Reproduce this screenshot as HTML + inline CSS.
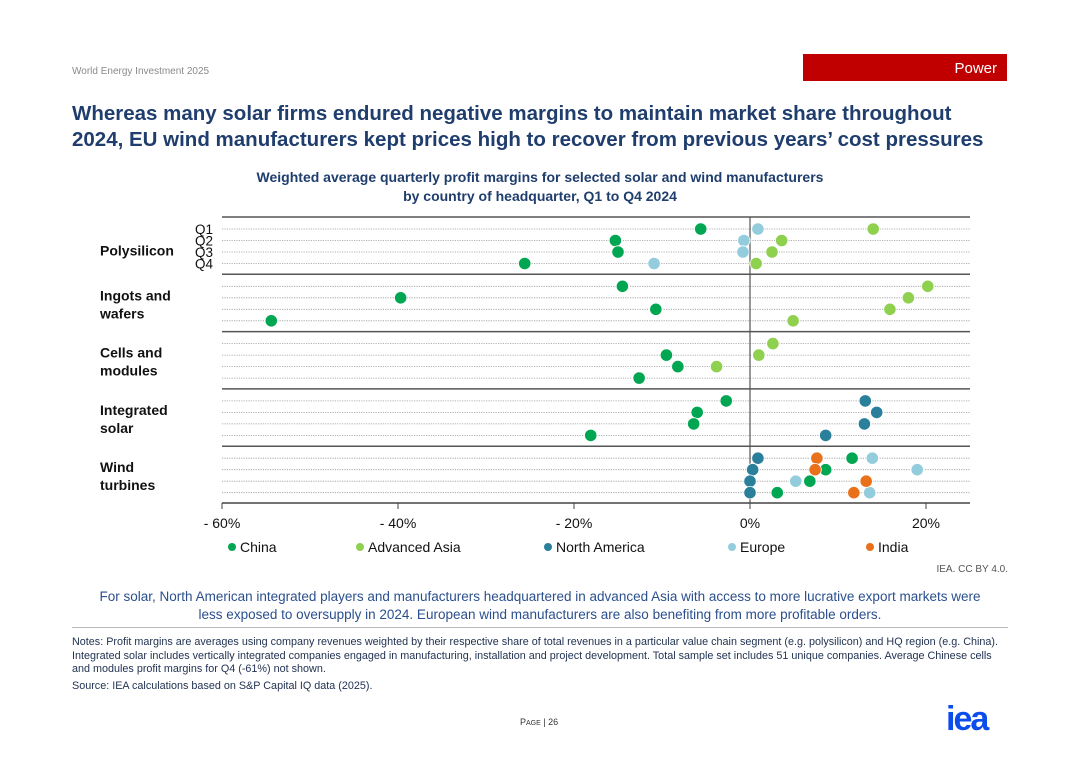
<!DOCTYPE html>
<html><head><meta charset="utf-8">
<style>
body{margin:0;background:#fff;}
#page{position:relative;width:1080px;height:764px;background:#fff;font-family:"Liberation Sans",Arial,sans-serif;overflow:hidden;}
.abs{position:absolute;}
</style></head>
<body>
<div id="page">
<div class="abs" style="left:72px;top:66px;font-size:10px;color:#8a8a8a">World Energy Investment 2025</div>
<div class="abs" style="left:803px;top:54px;width:204px;height:27px;background:#c00000;color:#fff;font-size:15px;text-align:right;box-sizing:border-box;padding:6px 10px 0 0">Power</div>
<div class="abs" style="left:72px;top:101px;font-size:20.5px;font-weight:bold;color:#1f3d6d;line-height:26px;width:1000px;white-space:nowrap">Whereas many solar firms endured negative margins to maintain market share throughout<br>2024, EU wind manufacturers kept prices high to recover from previous years’ cost pressures</div>
<div class="abs" style="left:140px;top:168px;width:800px;text-align:center;font-size:14px;font-weight:bold;color:#1f3d6d;line-height:19px">Weighted average quarterly profit margins for selected solar and wind manufacturers<br>by country of headquarter, Q1 to Q4 2024</div>
<svg id="chart" class="abs" style="left:0;top:0" width="1080" height="764"></svg>
<div class="abs" style="right:72px;top:564px;font-size:10px;color:#555">IEA. CC BY 4.0.</div>
<div class="abs" style="left:20px;top:588px;width:1040px;text-align:center;font-size:13.5px;color:#2b4f8e;line-height:18px;white-space:nowrap">For solar, North American integrated players and manufacturers headquartered in advanced Asia with access to more lucrative export markets were<br>less exposed to oversupply in 2024. European wind manufacturers are also benefiting from more profitable orders.</div>
<div class="abs" style="left:72px;top:627px;width:936px;border-top:1px solid #bbb"></div>
<div class="abs" style="left:72px;top:636px;width:1000px;font-size:10.8px;color:#1f3050;line-height:13.5px;white-space:nowrap">Notes: Profit margins are averages using company revenues weighted by their respective share of total revenues in a particular value chain segment (e.g. polysilicon) and HQ region (e.g. China).<br>Integrated solar includes vertically integrated companies engaged in manufacturing, installation and project development. Total sample set includes 51 unique companies. Average Chinese cells<br>and modules profit margins for Q4 (-61%) not shown.<div style="margin-top:3px">Source: IEA calculations based on S&amp;P Capital IQ data (2025).</div></div>
<div class="abs" style="left:520px;top:717px;font-size:9px;color:#333">P<span style="font-size:7px">AGE</span> | 26</div>
<div class="abs" style="left:946px;top:700px;font-size:34px;font-weight:bold;color:#0a4dea;letter-spacing:-2px">iea</div>
</div>
<script>
const groups=["Polysilicon","Ingots and|wafers","Cells and|modules","Integrated|solar","Wind|turbines"];
const quarters=["Q1","Q2","Q3","Q4"];
const xTicks=[-60,-40,-20,0,20];
const xTickLabels=["- 60%","- 40%","- 20%","0%","20%"];
const seriesNames=["China","Advanced Asia","North America","Europe","India"];
const china=[[-5.6,-15.3,-15,-25.6],[-14.5,-39.7,-10.7,-54.4],[null,-9.5,-8.2,-12.6],[-2.7,-6,-6.4,-18.1],[11.6,8.6,6.8,3.1]];
const advAsia=[[14,3.6,2.5,0.7],[20.2,18,15.9,4.9],[2.6,1,-3.8,null],[null,null,null,null],[null,null,null,null]];
const northAmerica=[[null,null,null,null],[null,null,null,null],[null,null,null,null],[13.1,14.4,13,8.6],[0.9,0.3,0,0]];
const europe=[[0.9,-0.7,-0.8,-10.9],[null,null,null,null],[null,null,null,null],[null,null,null,null],[13.9,19,5.2,13.6]];
const india=[[null,null,null,null],[null,null,null,null],[null,null,null,null],[null,null,null,null],[7.6,7.4,13.2,11.8]];
const colors=["#00a651","#8fd14f","#2a7f9a","#93cddd","#e8711a"];
const NS="http://www.w3.org/2000/svg";
const svg=document.getElementById('chart');
const L=222,R=970,X0=750,K=8.8;
const xs=v=>X0+v*K;
const gy=g=>217+g*57.3;
const ry=(g,q)=>gy(g)+12+q*11.5;
function mk(t,a){const e=document.createElementNS(NS,t);for(const k in a)e.setAttribute(k,a[k]);svg.appendChild(e);return e;}
groups.forEach((gname,g)=>{
  let sep=mk('line',{x1:L,x2:R,y1:gy(g),y2:gy(g),stroke:'#555','stroke-width':1.5});
  
  
  quarters.forEach((q,qi)=>{
    let gl=mk('line',{x1:L,x2:R,y1:ry(g,qi),y2:ry(g,qi),stroke:'#999','stroke-width':0.8,'stroke-dasharray':'1.2,1.2'});
    
    
  });
  const parts=gname.split('|');
  parts.forEach((p,i)=>{
    const yy=parts.length==1?ry(g,1)+15:gy(g)+26+i*18;
    let t=mk('text',{x:100,y:yy,'font-size':14,'font-weight':'bold',fill:'#111'});
    t.textContent=p;
    
    
  });
});
quarters.forEach((q,qi)=>{
  let t=mk('text',{x:213,y:ry(0,qi)+5,'font-size':13.5,fill:'#111','text-anchor':'end'});
  t.textContent=q;
  
  
});
let ax=mk('line',{x1:L,x2:R,y1:503,y2:503,stroke:'#444','stroke-width':1.5});


let zl=mk('line',{x1:xs(0),x2:xs(0),y1:217,y2:503,stroke:'#555','stroke-width':1.2});


xTicks.forEach((v,i)=>{
  let tk=mk('line',{x1:xs(v),x2:xs(v),y1:503,y2:509,stroke:'#444','stroke-width':1});
  
  
  let t=mk('text',{x:xs(v),y:528,'font-size':14,fill:'#111','text-anchor':'middle'});
  t.textContent=xTickLabels[i];
  
  
});
[china,advAsia,northAmerica,europe,india].forEach((s,si)=>{
  s.forEach((arr,g)=>arr.forEach((v,qi)=>{
    if(v===null)return;
    let c=mk('circle',{cx:xs(v),cy:ry(g,qi),r:6.2,fill:colors[si],stroke:'#fff','stroke-width':0.8});
    
    
  }));
});
const legX=[232,360,548,732,870];
seriesNames.forEach((n,i)=>{
  let c=mk('circle',{cx:legX[i],cy:547,r:4,fill:colors[i]});
  
  
  let t=mk('text',{x:legX[i]+8,y:552,'font-size':14,fill:'#111'});
  t.textContent=n;
  
  
});
</script>
</body></html>
